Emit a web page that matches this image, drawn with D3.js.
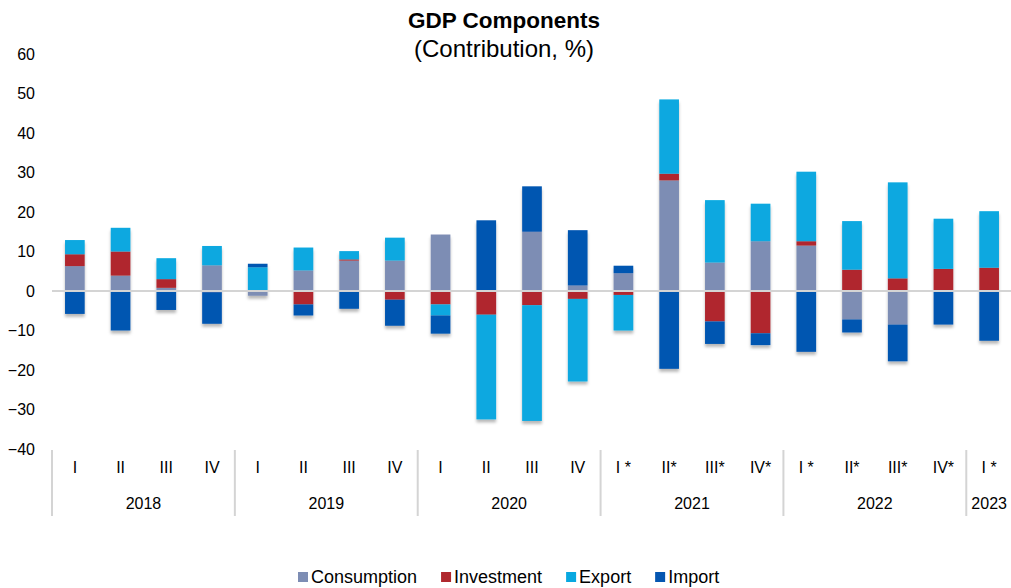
<!DOCTYPE html>
<html>
<head>
<meta charset="utf-8">
<script src="https://cdn.jsdelivr.net/npm/d3@7"></script>
<style>
  body { margin: 0; background: #fff; }
  text { font-family: "Liberation Sans", Arial, sans-serif; fill: #000; }
</style>
</head>
<body>
<script>
// data
var quarters = ["I","II","III","IV","I","II","III","IV","I","II","III","IV",
                "I *","II*","III*","IV*","I *","II*","III*","IV*","I *"];
var years = ["2018","2019","2020","2021","2022","2023"];
var yearQuarters = [4, 4, 4, 4, 4, 1];
var consumption = [6.3, 3.9, 0.8, 6.5, -1.2, 5.2, 7.7, 7.7, 14.3, 0, 15.0, 1.4,
                   4.5, 28.0, 7.2, 12.6, 11.5, -7.2, -8.5, 0, 0];
var investment  = [3.0, 6.1, 2.2, -0.3, 0, -3.4, 0.3, -2.2, -3.4, -6.0, -3.6, -2.0,
                   -1.0, 1.7, -7.7, -10.7, 1.1, 5.4, 3.2, 5.6, 5.9];
var exportData  = [3.6, 6.0, 5.3, 4.9, 6.0, 5.8, 2.1, 5.8, -2.8, -26.5, -29.3, -20.9,
                   -9.0, 18.8, 15.8, 9.5, 17.6, 12.3, 24.3, 12.7, 14.3];
var importData  = [-5.8, -10.0, -4.8, -8.0, 0.9, -2.8, -4.5, -6.6, -4.6, 17.9, 11.5, 14.0,
                   1.9, -19.7, -5.7, -3.0, -15.4, -3.3, -9.3, -8.5, -12.6];
var yTicks = [60, 50, 40, 30, 20, 10, 0, -10, -20, -30, -40];

var seriesNames = ["Consumption", "Investment", "Export", "Import"];
var colors = ["#7d8db4", "#b0282e", "#08a8e0", "#0556b1"];

var width = 1011, height = 588;

var svg = d3.select("body").append("svg")
    .attr("width", width)
    .attr("height", height);

// soft shadow under the bars
var defs = svg.append("defs");
defs.append("filter").attr("id", "shadow")
    .attr("x", "-20%").attr("y", "-20%").attr("width", "140%").attr("height", "140%")
  .append("feDropShadow")
    .attr("dx", 0).attr("dy", 3).attr("stdDeviation", 1.5)
    .attr("flood-color", "#000").attr("flood-opacity", 0.28);

// title
svg.append("text").attr("x", 504).attr("y", 28)
    .attr("text-anchor", "middle").style("font-size", "22.5px").style("font-weight", "bold")
    .text("GDP Components");
svg.append("text").attr("x", 504).attr("y", 57)
    .attr("text-anchor", "middle").style("font-size", "24px")
    .text("(Contribution, %)");

// scales
var x = d3.scaleBand()
    .domain(d3.range(quarters.length))
    .range([52, 1012])
    .paddingInner(0.57)
    .paddingOuter(0.285);

var y = d3.scaleLinear()
    .domain([-40, 60])
    .range([449, 54]);

// y labels
svg.append("g")
    .attr("transform", "translate(35,0)")
    .call(d3.axisLeft(y).tickValues(yTicks).tickSize(0).tickPadding(0))
    .call(function(g) { g.select(".domain").remove(); })
    .selectAll("text")
      .style("font-family", "Liberation Sans, Arial, sans-serif")
      .style("font-size", "16px")
      .attr("fill", "#000");

// stacked bars, positives up and negatives down in series order
var table = quarters.map(function(q, i) {
  return { Consumption: consumption[i], Investment: investment[i],
           Export: exportData[i], Import: importData[i] };
});
var stacked = d3.stack().keys(seriesNames).offset(d3.stackOffsetDiverging)(table);

var bars = svg.append("g").attr("filter", "url(#shadow)");
bars.selectAll("g")
  .data(stacked)
  .enter().append("g")
    .attr("fill", function(d, i) { return colors[i]; })
  .selectAll("rect")
  .data(function(d) { return d; })
  .enter().append("rect")
    .attr("x", function(d, i) { return x(i); })
    .attr("y", function(d) { return y(Math.max(d[0], d[1])); })
    .attr("width", x.bandwidth())
    .attr("height", function(d) { return Math.abs(y(d[0]) - y(d[1])); });

// zero line
svg.append("line")
    .attr("x1", 52).attr("x2", 1011)
    .attr("y1", y(0)).attr("y2", y(0))
    .attr("stroke", "#d4d4d4").attr("stroke-width", 2);

// category axis: quarter labels, year labels, separators
var step = x.step(), x0 = x.range()[0];
svg.append("g").selectAll("text")
  .data(quarters)
  .enter().append("text")
    .attr("x", function(d, i) { return x(i) + x.bandwidth() / 2; })
    .attr("y", 473)
    .attr("text-anchor", "middle")
    .style("font-size", "16px")
    .text(function(d) { return d; });

var starts = [0];
yearQuarters.forEach(function(n, i) { starts.push(starts[i] + n); });

svg.append("g").selectAll("line")
  .data(starts)
  .enter().append("line")
    .attr("x1", function(d) { return x0 + d * step; })
    .attr("x2", function(d) { return x0 + d * step; })
    .attr("y1", 450).attr("y2", 516)
    .attr("stroke", "#d4d4d4").attr("stroke-width", 2);

svg.append("g").selectAll("text")
  .data(years)
  .enter().append("text")
    .attr("x", function(d, i) { return x0 + (starts[i] + yearQuarters[i] / 2) * step; })
    .attr("y", 509)
    .attr("text-anchor", "middle")
    .style("font-size", "16px")
    .text(function(d) { return d; });

// legend
var legend = svg.append("g").attr("transform", "translate(0,577)");
var items = legend.selectAll("g")
  .data(seriesNames)
  .enter().append("g");
items.append("rect")
    .attr("y", -5).attr("width", 10).attr("height", 10)
    .attr("fill", function(d, i) { return colors[i]; });
items.append("text")
    .attr("x", 13).attr("y", 6)
    .style("font-size", "18px")
    .text(function(d) { return d; });
var pos = 298;
items.each(function() {
  d3.select(this).attr("transform", "translate(" + pos + ",0)");
  pos += 13 + d3.select(this).select("text").node().getComputedTextLength() + 24;
});
</script>
</body>
</html>
